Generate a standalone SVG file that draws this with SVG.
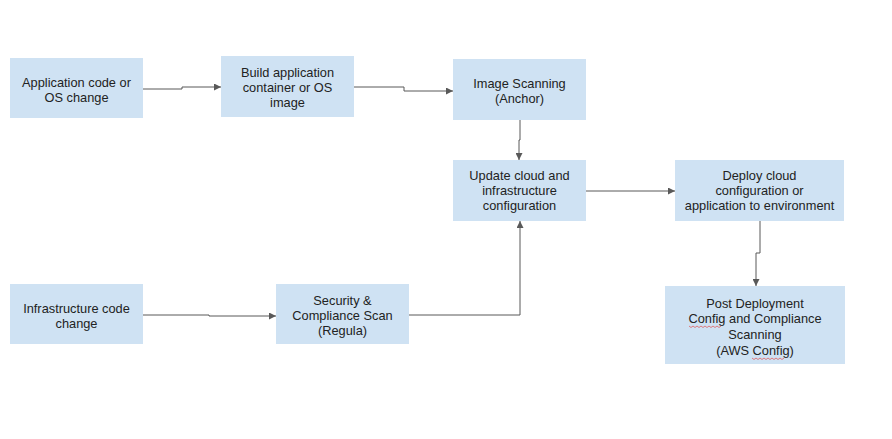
<svg xmlns="http://www.w3.org/2000/svg" width="892" height="439" viewBox="0 0 892 439">
<style>
.box{fill:#cfe2f3;stroke:none}
.t{font-family:"Liberation Sans",Arial,sans-serif;font-size:12.8px;fill:#222;text-anchor:middle}
.c{fill:none;stroke:#595959;stroke-width:1}
.sq{fill:none;stroke:#e06060;stroke-width:0.8}
</style>
<defs>
<marker id="ah" viewBox="0 0 10 10" refX="10" refY="5" markerWidth="7" markerHeight="7" orient="auto" markerUnits="userSpaceOnUse">
<path d="M0,0 L10,5 L0,10 z" fill="#595959"/>
</marker>
</defs>
<rect width="892" height="439" fill="#fff"/>
<g id="connectors">
<path class="c" d="M143,89 H182 V87 H221" marker-end="url(#ah)"/>
<path class="c" d="M354,87 H404 V91 H453" marker-end="url(#ah)"/>
<path class="c" d="M520,120 V140 H519 V160" marker-end="url(#ah)"/>
<path class="c" d="M586,191 H675" marker-end="url(#ah)"/>
<path class="c" d="M143,315 H209 V316 H276" marker-end="url(#ah)"/>
<path class="c" d="M409,315 H520 V221" marker-end="url(#ah)"/>
<path class="c" d="M760,221 V253 H756 V286" marker-end="url(#ah)"/>
</g>
<g id="app-code">
<rect class="box" x="10" y="58" width="133" height="60"/>
<text class="t" x="76.5" y="87">Application code or</text>
<text class="t" x="76.5" y="102">OS change</text>
</g>
<g id="build">
<rect class="box" x="221" y="56" width="133" height="61"/>
<text class="t" x="287.5" y="77">Build application</text>
<text class="t" x="287.5" y="92">container or OS</text>
<text class="t" x="287.5" y="107">image</text>
</g>
<g id="image-scan">
<rect class="box" x="453" y="59" width="133" height="61"/>
<text class="t" x="519.5" y="88">Image Scanning</text>
<text class="t" x="519.5" y="103">(Anchor)</text>
</g>
<g id="update">
<rect class="box" x="453" y="160" width="133" height="61"/>
<text class="t" x="519.5" y="180">Update cloud and</text>
<text class="t" x="519.5" y="195">infrastructure</text>
<text class="t" x="519.5" y="210">configuration</text>
</g>
<g id="deploy">
<rect class="box" x="675" y="160" width="169" height="61"/>
<text class="t" x="759.5" y="180">Deploy cloud</text>
<text class="t" x="759.5" y="195">configuration or</text>
<text class="t" x="759.5" y="210">application to environment</text>
</g>
<g id="infra-code">
<rect class="box" x="10" y="284" width="133" height="60"/>
<text class="t" x="76.5" y="313">Infrastructure code</text>
<text class="t" x="76.5" y="328">change</text>
</g>
<g id="security">
<rect class="box" x="276" y="284" width="133" height="60"/>
<text class="t" x="342.5" y="305">Security &amp;</text>
<text class="t" x="342.5" y="320">Compliance Scan</text>
<text class="t" x="342.5" y="335">(Regula)</text>
</g>
<g id="post">
<rect class="box" x="665" y="286" width="180" height="78"/>
<text class="t" x="755" y="308">Post Deployment</text>
<text class="t" x="755" y="323">Config and Compliance</text>
<text class="t" x="755" y="339">Scanning</text>
<text class="t" x="755" y="355">(AWS Config)</text>
<path class="sq" d="M689,326 l2,1.5 l2,-1.5 l2,1.5 l2,-1.5 l2,1.5 l2,-1.5 l2,1.5 l2,-1.5 l2,1.5 l2,-1.5 l2,1.5 l2,-1.5 l2,1.5 l2,-1.5 l2,1.5 l2,-1.5"/>
<path class="sq" d="M752,358 l2,1.5 l2,-1.5 l2,1.5 l2,-1.5 l2,1.5 l2,-1.5 l2,1.5 l2,-1.5 l2,1.5 l2,-1.5 l2,1.5 l2,-1.5 l2,1.5 l2,-1.5 l2,1.5 l2,-1.5"/>
</g>
</svg>
